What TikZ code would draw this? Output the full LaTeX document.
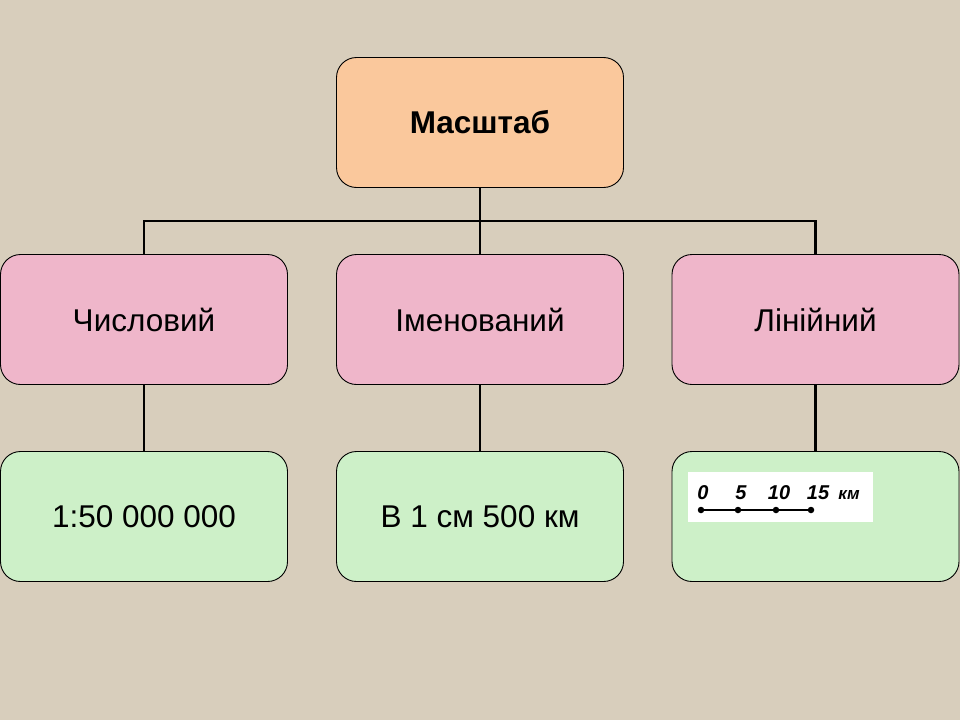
\documentclass[tikz,border=0pt]{standalone}
\usepackage{fontspec}
\setmainfont{Liberation Sans}
\definecolor{bgc}{HTML}{D8CEBC}
\definecolor{peach}{HTML}{FAC89C}
\definecolor{pinkc}{HTML}{EFB6CA}
\definecolor{greenc}{HTML}{CDF0C8}
\tikzset{
  box/.style={draw=black, line width=0.9pt, rounded corners=20pt, minimum width=287pt, minimum height=130pt, inner sep=0pt, font=\fontsize{31.5}{36}\selectfont, text=black},
  conn/.style={line width=2.6pt, black},
  scalenum/.style={font=\fontsize{20}{24}\selectfont\bfseries\itshape, inner sep=0pt, anchor=base},
  dot/.style={circle, fill=black, inner sep=0pt, minimum size=6.5pt}
}
\begin{document}
\begin{tikzpicture}[x=1pt,y=-1pt]
\fill[bgc] (0,0) rectangle (960,720);
\useasboundingbox (0,0) rectangle (960,720);
\node[box, fill=peach, font=\fontsize{31.5}{36}\selectfont\bfseries] (top) at (480,122.5) {Масштаб};
\node[box, fill=pinkc] (m1) at (144,319.5) {Числовий};
\node[box, fill=pinkc] (m2) at (480,319.5) {Іменований};
\node[box, fill=pinkc] (m3) at (815.5,319.5) {Лінійний};
\node[box, fill=greenc] (b1) at (144,516.5) {1:50 000 000};
\node[box, fill=greenc] (b2) at (480,516.5) {В 1 см 500 км};
\node[box, fill=greenc] (b3) at (815.5,516.5) {};
\coordinate (j) at (480,221);
\draw[conn] (top.south) -- (j);
\draw[conn] (m2.north) -- (j);
\draw[conn] (m1.north) |- (j);
\draw[conn] (m3.north) |- (j);
\draw[conn] (m1.south) -- (b1.north);
\draw[conn] (m2.south) -- (b2.north);
\draw[conn] (m3.south) -- (b3.north);
% linear scale
\node[fill=white, minimum width=185pt, minimum height=50pt, inner sep=0pt] (sbg) at (780.5,497) {};
\node[scalenum] (s0) at (703,499) {0};
\node[scalenum] (s5) at (741,499) {5};
\node[scalenum] (s10) at (779,499) {10};
\node[scalenum] (s15) at (818,499) {15};
\node[scalenum, font=\fontsize{17}{20}\selectfont\bfseries\itshape] (skm) at (849,499) {км};
\node[dot] (d0) at (701,510) {};
\node[dot] (d1) at (738,510) {};
\node[dot] (d2) at (776,510) {};
\node[dot] (d3) at (811,510) {};
\draw[line width=2.4pt] (d0.center) -- (d1.center) -- (d2.center) -- (d3.center);
\end{tikzpicture}
\end{document}
